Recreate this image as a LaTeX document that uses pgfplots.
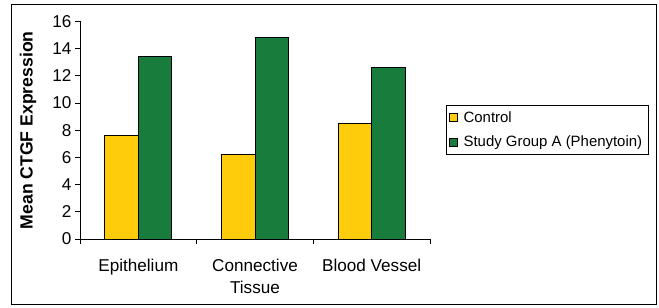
\documentclass[border=0pt]{standalone}
\usepackage{pgfplots}
\pgfplotsset{compat=1.18}
\usepackage{fontspec}
\setmainfont{Liberation Sans}
\definecolor{cyel}{RGB}{254,204,10}
\definecolor{cgrn}{RGB}{24,124,60}
\begin{document}
\begin{tikzpicture}
\begin{axis}[
  at={(80bp,69bp)}, anchor=south west,
  scale only axis, width=350bp, height=217.5bp,
  ybar=0pt, bar width=33.5bp,
  xmin=-0.5, xmax=2.5, ymin=0, ymax=16,
  axis x line*=bottom, axis y line*=left,
  axis line style={black, line width=0.8pt, -},
  xtick={0,1,2},
  xticklabels={Epithelium, Connective\\Tissue, Blood Vessel},
  minor xtick={-0.5,0.5,1.5,2.5},
  ytick={0,2,...,16},
  tick align=outside,
  major x tick style={draw=none},
  minor tick length=5bp,
  major tick length=5bp,
  tick style={black, line width=0.8pt},
  xticklabel style={align=center, font=\fontsize{17.2}{22}\selectfont, yshift=-12bp},
  yticklabel style={font=\fontsize{17.2}{20}\selectfont, /pgf/number format/assume math mode=true},
  ylabel={\textbf{Mean CTGF Expression}},
  ylabel style={font=\fontsize{17.7}{20}\selectfont, at={(axis description cs:-0.1486,0.5)}, anchor=center, rotate=0},
  legend style={at={(axis description cs:1.0457,0.616)}, anchor=north west,
    draw=black, line width=0.8pt, font=\fontsize{15}{17}\selectfont,
    inner xsep=3bp, inner ysep=4bp, row sep=8bp,
    nodes={inner xsep=3bp}},
  legend image code/.code={\draw[#1, draw=black, line width=0.6pt] (0bp,-4bp) rectangle (8bp,4bp); \path (10.5bp,0bp);},
  legend cell align=left,
]
\addplot[fill=cyel, draw=black, line width=0.8pt] coordinates {(0,7.6) (1,6.2) (2,8.5)};
\addplot[fill=cgrn, draw=black, line width=0.8pt] coordinates {(0,13.4) (1,14.8) (2,12.6)};
\legend{Control, Study Group A (Phenytoin)}
\end{axis}
\draw[black, line width=0.8pt] (11.5bp,3.5bp) rectangle (656bp,304bp);
\pgfresetboundingbox
\path (0,0) rectangle (659bp,308bp);
\end{tikzpicture}
\end{document}
